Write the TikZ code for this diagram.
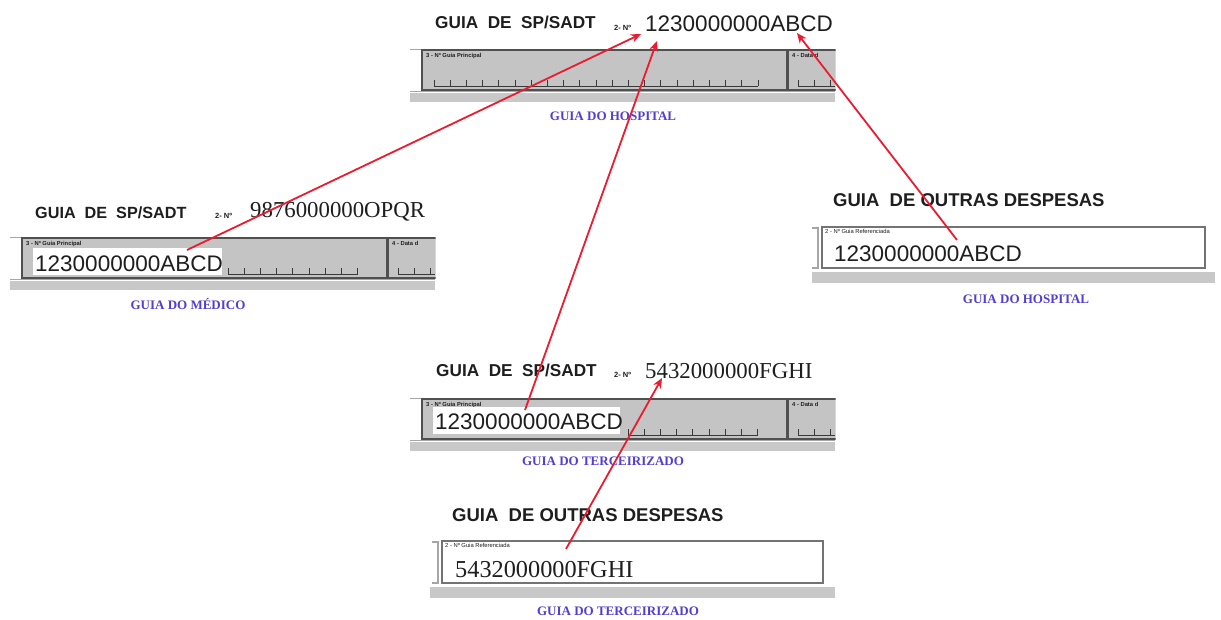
\documentclass[tikz,border=0pt]{standalone}
\usepackage{fontspec}
\setmainfont{Liberation Serif}
\setsansfont{Liberation Sans}
\newfontfamily\arialf{Liberation Sans}
\newfontfamily\tnrf{Liberation Serif}
\usetikzlibrary{arrows.meta}
\definecolor{arrred}{RGB}{236,28,48}
\definecolor{lblblue}{RGB}{82,62,210}
\definecolor{boxgray}{RGB}{196,196,196}
\definecolor{bargray}{RGB}{200,200,200}
\definecolor{bordgray}{RGB}{80,80,80}
\definecolor{txtdark}{RGB}{30,30,30}
\tikzset{
  x=1pt, y=-1pt,
  ttl/.style={font=\arialf\bfseries\fontsize{17.2}{19}\selectfont, anchor=base west, inner sep=0pt, text=txtdark},
  ttlo/.style={font=\arialf\bfseries\fontsize{18.5}{20}\selectfont, anchor=base west, inner sep=0pt, text=txtdark},
  nolbl/.style={font=\arialf\bfseries\fontsize{7.5}{8}\selectfont, anchor=base west, inner sep=0pt, text=txtdark},
  numsans/.style={font=\arialf\fontsize{22.5}{26}\selectfont, anchor=base west, inner sep=0pt, text=txtdark},
  numserif/.style={font=\tnrf\fontsize{22.8}{26}\selectfont, anchor=base west, inner sep=0pt, text=txtdark},
  bluelbl/.style={font=\tnrf\bfseries\fontsize{13}{14}\selectfont, anchor=base, inner sep=0pt, text=lblblue},
  fldlbl/.style={font=\arialf\bfseries\fontsize{5.8}{6}\selectfont, anchor=north west, inner sep=0pt, text=txtdark},
  reflbl/.style={font=\arialf\fontsize{5.8}{6}\selectfont, anchor=north west, inner sep=0pt, text=txtdark},
  fieldbox/.style={fill=boxgray, draw=bordgray, line width=1.4pt},
  outline/.style={draw=gray!70, line width=0.8pt},
  grbar/.style={fill=bargray, draw=none},
  tick/.style={draw=gray!45!black, line width=0.7pt},
  hilite/.style={fill=white, draw=none},
  refarrow/.style={draw=arrred, line width=1.8pt, -{Stealth[length=10pt,width=8.5pt,inset=3pt]}},
}
\newcommand{\combrow}[3]{% from x #1 to x #2, count #3 (relative coordinates)
  \foreach \i in {0,...,#3}{
    \pgfmathsetmacro{\xx}{#1+\i*16.2}
    \draw[tick] (\xx,31) -- (\xx,37);
  }
  \draw[tick] (#1,37) -- (#2,37);
}
\newcommand{\spstrip}[1]{% #1 = 1 to include ticks from start
  \begin{scope}
    \clip (-1,-2) rectangle (425.5,56);
    \draw[outline] (0,0) -- (425,0);
    \draw[outline] (0,42) -- (425,42);
    \draw[fieldbox] (12,1) rectangle (377,41);
    \draw[fieldbox] (378,1) rectangle (440,41);
    \node[fldlbl] at (16,4) {3 - Nº Guia Principal};
    \node[fldlbl] at (382,4) {4 - Data d};
    \fill[grbar] (0,44) rectangle (425,53);
    \foreach \i in {0,1,2}{
      \pgfmathsetmacro{\xx}{388+\i*16.2}
      \draw[tick] (\xx,31) -- (\xx,37);
    }
    \draw[tick] (388,37) -- (425,37);
    \ifnum#1=1
      \combrow{24}{348}{20}
    \else
      \combrow{218}{348}{8}
    \fi
  \end{scope}
}
\begin{document}
\begin{tikzpicture}
\useasboundingbox[fill=white] (0,0) rectangle (1221,619);

% ---------- Panel 1: hospital SP/SADT ----------
\begin{scope}[shift={(410,49)}]
  \spstrip{1}
\end{scope}
\node[ttl] (t1) at (435,28) {GUIA\ \ DE\ \ SP/SADT};
\node[nolbl] (n1) at (614,30) {2- Nº};
\node[numsans] (num1) at (645,31) {1230000000ABCD};
\node[bluelbl] (l1) at (613,120) {GUIA DO HOSPITAL};

% ---------- Panel 2: médico ----------
\begin{scope}[shift={(10,237)}]
  \spstrip{0}
  \fill[hilite] (23,11) rectangle (212,38);
\end{scope}
\node[ttl, font=\arialf\bfseries\fontsize{16.2}{18}\selectfont] (t2) at (35,218) {GUIA\ \ DE\ \ SP/SADT};
\node[nolbl] (n2) at (215,218) {2- Nº};
\node[numserif] (num2) at (250,217) {9876000000OPQR};
\node[numsans] (h2) at (35,271) {1230000000ABCD};
\node[bluelbl] (l2) at (188,309) {GUIA DO MÉDICO};

% ---------- Panel 3: outras despesas (hospital) ----------
\node[ttlo] (t3) at (833,206) {GUIA\ \ DE OUTRAS DESPESAS};
\draw[outline, line width=1.2pt] (812,228) -- (818,228) -- (818,268) -- (812,268);
\draw[draw=bordgray!80, line width=1.4pt, fill=white] (822,227) rectangle (1205,268);
\node[reflbl] (r3) at (825,229.5) {2 - Nº Guia Referenciada};
\node[numsans] (num3) at (834,261) {1230000000ABCD};
\fill[grbar] (812,272) rectangle (1215,283);
\node[bluelbl] (l3) at (1026,303) {GUIA DO HOSPITAL};

% ---------- Panel 4: terceirizado SP/SADT ----------
\begin{scope}[shift={(410,398)}]
  \spstrip{0}
  \fill[hilite] (23,9) rectangle (210,36);
\end{scope}
\node[ttl] (t4) at (436,376) {GUIA\ \ DE\ \ SP/SADT};
\node[nolbl] (n4) at (614,377) {2- Nº};
\node[numserif] (num4) at (645,378) {5432000000FGHI};
\node[numsans] (h4) at (435,429) {1230000000ABCD};
\node[bluelbl] (l4) at (603,465) {GUIA DO TERCEIRIZADO};

% ---------- Panel 5: outras despesas (terceirizado) ----------
\node[ttlo] (t5) at (452,521) {GUIA\ \ DE OUTRAS DESPESAS};
\draw[outline, line width=1.2pt] (432,542) -- (438,542) -- (438,583) -- (432,583);
\draw[draw=bordgray!80, line width=1.4pt, fill=white] (442,541) rectangle (823,583);
\node[reflbl] (r5) at (445,543.5) {2 - Nº Guia Referenciada};
\node[numserif, font=\tnrf\fontsize{24.3}{27}\selectfont] (num5) at (455,577) {5432000000FGHI};
\fill[grbar] (430,587) rectangle (835,598);
\node[bluelbl] (l5) at (618,615) {GUIA DO TERCEIRIZADO};

% ---------- arrow endpoints ----------
\coordinate (s1) at (187,250);
\coordinate (e1) at (641,34);
\coordinate (s2) at (525,410);
\coordinate (e2) at (657,41);
\coordinate (s3) at (957,240);
\coordinate (e3) at (797,33);
\coordinate (s4) at (566,549);
\coordinate (e4) at (662,378);

\draw[refarrow] (s1) -- (e1);
\draw[refarrow] (s2) -- (e2);
\draw[refarrow] (s3) -- (e3);
\draw[refarrow] (s4) -- (e4);
\end{tikzpicture}
\end{document}
